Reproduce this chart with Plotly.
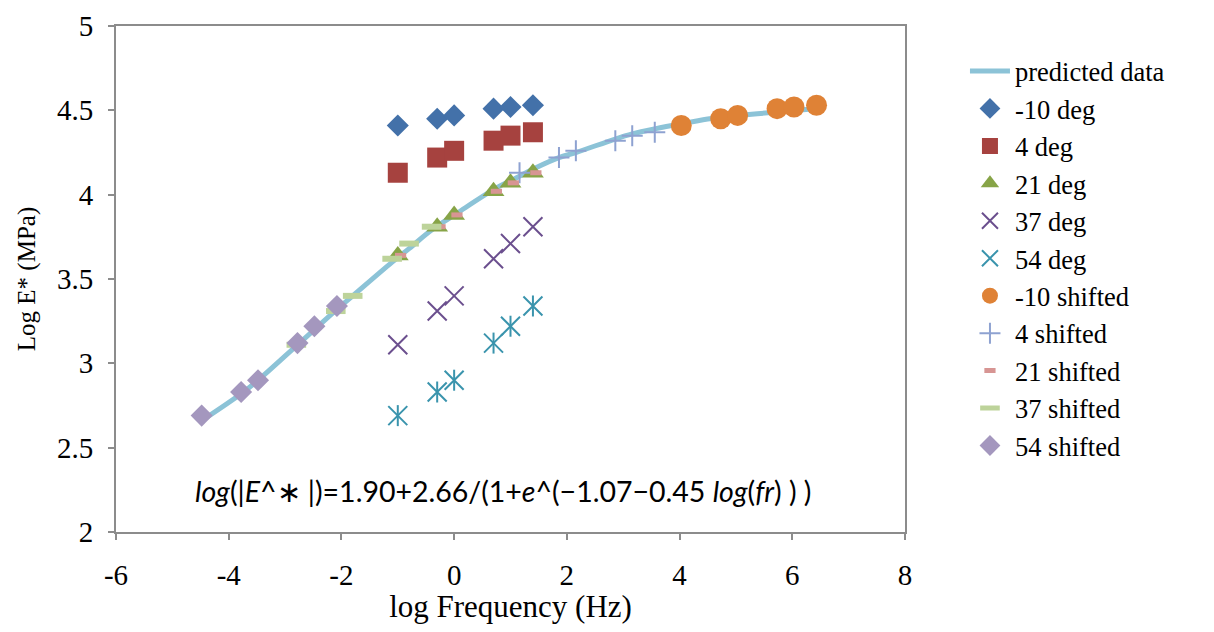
import plotly.graph_objects as go

# log frequency of tests (Hz): 0.1, 0.5, 1, 5, 10, 25
log_freq = [-1.0, -0.301, 0.0, 0.699, 1.0, 1.398]

deg_m10 = [4.41, 4.45, 4.47, 4.51, 4.52, 4.53]
deg_4 = [4.13, 4.22, 4.26, 4.32, 4.35, 4.37]
deg_21 = [3.64, 3.81, 3.88, 4.02, 4.07, 4.13]
deg_37 = [3.11, 3.31, 3.40, 3.62, 3.71, 3.81]
deg_54 = [2.69, 2.83, 2.90, 3.12, 3.22, 3.34]

x_m10_shift = [4.03, 4.73, 5.03, 5.73, 6.03, 6.43]
x_4_shift = [1.16, 1.86, 2.16, 2.86, 3.16, 3.56]
x_21_shift = [-0.95, -0.25, 0.05, 0.75, 1.05, 1.45]
x_37_shift = [-2.80, -2.10, -1.80, -1.10, -0.80, -0.40]
x_54_shift = [-4.48, -3.78, -3.48, -2.78, -2.48, -2.08]

pred_x = [-4.48, -3.78, -3.48, -2.78, -2.48, -2.08, -1.80, -1.10, -0.80, -0.40,
          0.05, 0.75, 1.05, 1.16, 1.45, 1.86, 2.16, 2.86, 3.16, 3.56,
          4.03, 4.73, 5.03, 5.73, 6.03, 6.43]
pred_y = [2.66, 2.82, 2.90, 3.11, 3.20, 3.32, 3.40, 3.60, 3.68, 3.79,
          3.89, 4.04, 4.09, 4.11, 4.16, 4.22, 4.25, 4.33, 4.36, 4.39,
          4.42, 4.46, 4.47, 4.49, 4.50, 4.51]

x_ticks = [-6, -4, -2, 0, 2, 4, 6, 8]
y_ticks = [2, 2.5, 3, 3.5, 4, 4.5, 5]

equation = ("<i>log</i>(|<i>E</i>^∗ |)=1.90+2.66/(1+<i>e</i>^(−1.07−0.45 "
            "<i>log</i>(<i>fr</i>) ) )")

SERIF = "Liberation Serif, Times New Roman, serif"

fig = go.Figure()

fig.add_trace(go.Scatter(x=pred_x, y=pred_y, mode="lines", name="predicted data",
                         line=dict(color="#8CC3D7", width=5, shape="spline")))

fig.add_trace(go.Scatter(x=log_freq, y=deg_m10, mode="markers", name="-10 deg",
                         marker=dict(symbol="diamond", size=17, color="#4371A9")))
fig.add_trace(go.Scatter(x=log_freq, y=deg_4, mode="markers", name="4 deg",
                         marker=dict(symbol="square", size=20, color="#A6423F")))
fig.add_trace(go.Scatter(x=log_freq, y=deg_21, mode="markers", name="21 deg",
                         marker=dict(symbol="triangle-up", size=19, color="#87A447")))
fig.add_trace(go.Scatter(x=log_freq, y=deg_37, mode="markers", name="37 deg",
                         marker=dict(symbol="x-thin", size=19, color="#6B4F8E",
                                     line=dict(color="#6B4F8E", width=2))))
fig.add_trace(go.Scatter(x=log_freq, y=deg_54, mode="markers", name="54 deg",
                         legendgroup="g54",
                         marker=dict(symbol="x-thin", size=19, color="#3A94AD",
                                     line=dict(color="#3A94AD", width=2))))
fig.add_trace(go.Scatter(x=log_freq, y=deg_54, mode="markers", name="54 deg",
                         legendgroup="g54", showlegend=False,
                         marker=dict(symbol="line-ns", size=15, color="#3A94AD",
                                     line=dict(color="#3A94AD", width=2))))
fig.add_trace(go.Scatter(x=x_m10_shift, y=deg_m10, mode="markers", name="-10 shifted",
                         marker=dict(symbol="circle", size=21, color="#DF8236")))
fig.add_trace(go.Scatter(x=x_4_shift, y=deg_4, mode="markers", name="4 shifted",
                         marker=dict(symbol="cross-thin", size=15, color="#8EA2D1",
                                     line=dict(color="#8EA2D1", width=2))))
fig.add_trace(go.Scatter(x=x_21_shift, y=deg_21, mode="markers", name="21 shifted",
                         marker=dict(symbol="line-ew", size=8, color="#D79593",
                                     line=dict(color="#D79593", width=5))))
fig.add_trace(go.Scatter(x=x_37_shift, y=deg_37, mode="markers", name="37 shifted",
                         marker=dict(symbol="line-ew", size=14, color="#BDD39A",
                                     line=dict(color="#BDD39A", width=6))))
fig.add_trace(go.Scatter(x=x_54_shift, y=deg_54, mode="markers", name="54 shifted",
                         marker=dict(symbol="diamond", size=17, color="#A497BE")))

fig.add_annotation(x=0.86, y=2.245, xref="x", yref="y", text=equation, showarrow=False,
                   font=dict(family="Lato", size=28.5, color="#000000"))

axis_common = dict(showgrid=False, zeroline=False, showline=True, linecolor="#8C8C8C",
                   linewidth=2, mirror=True, ticks="outside", ticklen=6,
                   tickcolor="#8C8C8C", tickwidth=2, automargin=False,
                   ticklabeloverflow="allow",
                   tickfont=dict(family=SERIF, size=29, color="#000000"))

fig.update_xaxes(range=[-6, 8], tickvals=x_ticks, ticktext=[str(v) for v in x_ticks],
                 ticklabelstandoff=10,
                 title=dict(text="log Frequency (Hz)", standoff=10,
                            font=dict(family=SERIF, size=31, color="#000000")),
                 **axis_common)
fig.update_yaxes(range=[2, 5], tickvals=y_ticks, ticktext=[f"{v:g}" for v in y_ticks],
                 ticklabelstandoff=9,
                 title=dict(text="Log E* (MPa)", standoff=14,
                            font=dict(family=SERIF, size=25, color="#000000")),
                 **axis_common)

fig.update_layout(
    width=1206, height=616,
    margin=dict(l=108, r=309, t=18, b=92),
    paper_bgcolor="white", plot_bgcolor="white",
    font=dict(family=SERIF, color="#000000"),
    legend=dict(x=1.076, y=0.958, xanchor="left", yanchor="top",
                font=dict(family=SERIF, size=26.5, color="#000000"),
                itemwidth=40, tracegroupgap=0, bgcolor="rgba(0,0,0,0)"),
)

fig.write_html("out.html")
